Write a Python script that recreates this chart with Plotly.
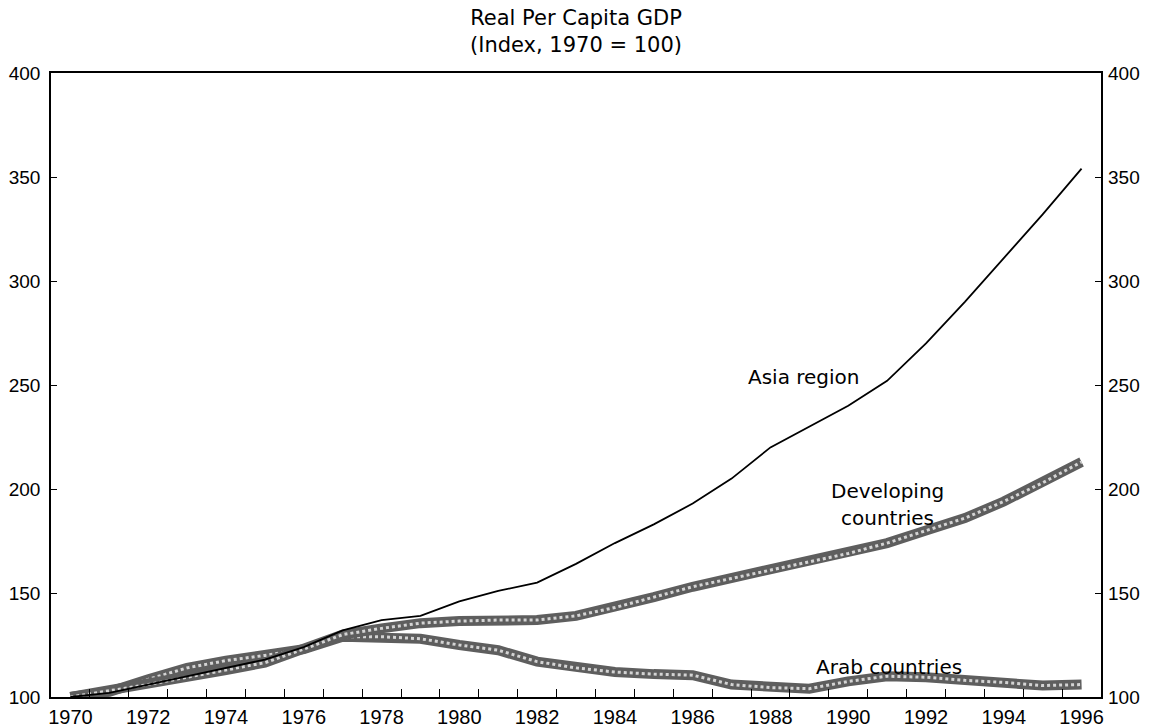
import plotly.graph_objects as go

years = list(range(1970, 1997))

asia_region = [100, 102, 106, 110, 114, 118, 124, 132, 137, 139, 146, 151, 155,
               164, 174, 183, 193, 205, 220, 230, 240, 252, 270, 290, 311, 332, 354]
developing_countries = [100, 103, 106, 109.5, 113, 116.5, 123, 130, 133, 135.5, 136.5, 137, 137,
                        139, 143, 148, 153, 157, 161, 165, 169, 174, 180, 186, 194, 203, 213]
arab_countries = [100, 102.5, 108.5, 114, 117.5, 120, 123, 129, 129, 128, 125, 122.5, 117,
                  114, 112, 111, 110.5, 106, 104.5, 104, 107.5, 110, 109.5, 108, 107, 105.5, 106]

label_years = list(range(1970, 1997, 2))
label_text = [str(y) for y in label_years]
boundary_ticks = [y + 0.5 for y in range(1970, 1996)]
y_ticks = [100, 150, 200, 250, 300, 350, 400]

title_text = "Real Per Capita GDP<br>(Index, 1970 = 100)"

BAND_DARK = "#5e5e5e"
BAND_LIGHT = "#d4d4d4"

fig = go.Figure()

for series in (arab_countries, developing_countries):
    fig.add_trace(go.Scatter(x=years, y=series, mode="lines",
                             line=dict(color=BAND_DARK, width=10),
                             hoverinfo="skip", showlegend=False))
    fig.add_trace(go.Scatter(x=years, y=series, mode="lines",
                             line=dict(color=BAND_LIGHT, width=3, dash="dot"),
                             hoverinfo="skip", showlegend=False))

fig.add_trace(go.Scatter(x=years, y=asia_region, mode="lines",
                         line=dict(color="black", width=1.8),
                         hoverinfo="skip", showlegend=False))

# invisible trace carrying the secondary (label / right) axes
fig.add_trace(go.Scatter(x=years, y=asia_region, mode="lines", xaxis="x2", yaxis="y2",
                         line=dict(color="rgba(0,0,0,0)", width=0),
                         hoverinfo="skip", showlegend=False))

tick_font = dict(family="Liberation Sans, Arial, sans-serif", size=19, color="black")
xlab_font = dict(family="Liberation Sans, Arial, sans-serif", size=20, color="black")
ann_font = dict(family="DejaVu Sans, sans-serif", size=20, color="black")

fig.update_layout(
    width=1154, height=727,
    margin=dict(l=51, r=53, t=73, b=30, autoexpand=False),
    paper_bgcolor="white", plot_bgcolor="white",
    xaxis=dict(range=[1969.5, 1996.5], tickmode="array", tickvals=boundary_ticks,
               showticklabels=False, ticks="inside", ticklen=8, tickwidth=1.2,
               tickcolor="black", showline=True, linecolor="black", linewidth=1.5,
               mirror=True, showgrid=False, zeroline=False, automargin=False),
    xaxis2=dict(range=[1969.5, 1996.5], overlaying="x", anchor="y", side="bottom",
                tickmode="array", tickvals=label_years, ticktext=label_text,
                ticks="", showline=False, showgrid=False, zeroline=False,
                tickfont=xlab_font, ticklabelstandoff=6, automargin=False),
    yaxis=dict(range=[100, 400], tickmode="array", tickvals=y_ticks,
               ticks="inside", ticklen=6, tickcolor="black", tickwidth=1.2,
               showline=True, linecolor="black", linewidth=1.5, mirror=True,
               showgrid=False, zeroline=False, tickfont=tick_font,
               ticklabelstandoff=5, automargin=False),
    yaxis2=dict(range=[100, 400], overlaying="y", side="right", anchor="x",
                tickmode="array", tickvals=y_ticks, ticks="inside", ticklen=6,
                tickcolor="black", tickwidth=1.2, showline=False, showgrid=False,
                zeroline=False, tickfont=tick_font, ticklabelstandoff=6,
                automargin=False),
)

fig.add_annotation(text=title_text, xref="paper", yref="paper", x=0.5, y=1,
                   yshift=42, showarrow=False,
                   font=dict(family="DejaVu Sans, sans-serif", size=21, color="black"),
                   xanchor="center", yanchor="middle", align="center")

fig.add_annotation(text="Asia region", x=1988.85, y=254, showarrow=False, font=ann_font)
fig.add_annotation(text="Developing", x=1991.0, y=199, showarrow=False, font=ann_font)
fig.add_annotation(text="countries", x=1991.0, y=186, showarrow=False, font=ann_font)
fig.add_annotation(text="Arab countries", x=1991.05, y=114.5, showarrow=False, font=ann_font)

fig.write_html("out.html", config={"displayModeBar": False},
               post_script="document.body.style.margin='0px';document.body.style.overflow='hidden';")
